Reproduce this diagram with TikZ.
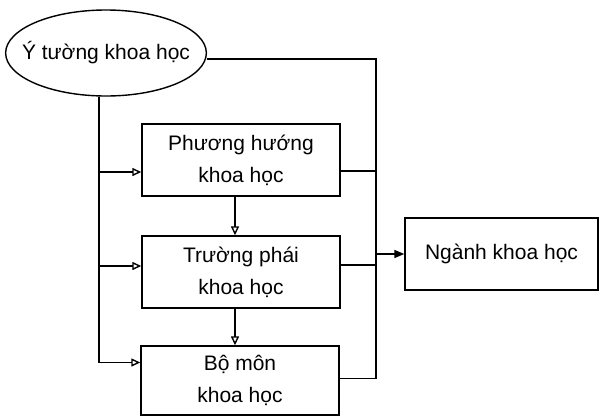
\documentclass[tikz,border=0pt]{standalone}
\usepackage{fontspec}
\setmainfont{Liberation Sans}
\usetikzlibrary{shapes.geometric,arrows.meta}

\begin{document}
\begin{tikzpicture}[x=0.5pt,y=-0.5pt,line width=0.7pt,
        txt/.style={font=\fontsize{10.5}{16}\selectfont,align=center},
        blk/.style={draw,txt,minimum width=99pt,minimum height=36pt,inner sep=2pt},
        oval/.style={draw,ellipse,txt,minimum width=99pt,minimum height=43pt,inner xsep=-6.5pt,inner ysep=0pt},
        arr/.style={-{Triangle[open,length=4.5pt,width=4pt]}},
        arrf/.style={-{Triangle[length=5pt,width=4pt]}}]
        \useasboundingbox (0,0) rectangle (600,418);
        \node[oval] (idea) at (106,53) {Ý tường khoa học};
        \node[blk] (huong) at (241,160) {Phương hướng\\khoa học};
        \node[blk] (phai) at (241,272) {Trường phái\\khoa học};
        \node[blk,minimum height=34.5pt] (mon) at (240,380.5) {Bộ môn\\khoa học};
        \node[blk,minimum width=96.5pt] (nganh) at (501.5,254) {Ngành khoa học};
        \coordinate (lv) at (99,0);
        \coordinate (rv) at (376,0);
        \coordinate (dn) at (235,0);
        \coordinate (h-in) at ([yshift=-6pt]huong.west);
        \coordinate (p-in) at ([yshift=3pt]phai.west);
        \coordinate (m-in) at ([yshift=9pt]mon.west);
        \coordinate (h-out) at ([yshift=-5.5pt]huong.east);
        \coordinate (p-out) at ([yshift=3.5pt]phai.east);
        \coordinate (m-out) at ([yshift=1pt]mon.east);
        \draw[arr] (idea.south -| lv) |- (m-in);
        \draw[arr] (lv |- h-in) -- (h-in);
        \draw[arr] (lv |- p-in) -- (p-in);
        \draw ([yshift=-3pt]idea.east) -| (rv |- m-out) -- (m-out);
        \draw (h-out) -- (rv |- h-out);
        \draw (p-out) -- (rv |- p-out);
        \draw[arrf] (rv |- nganh.west) -- (nganh.west);
        \draw[arr] (dn |- huong.south) -- (dn |- phai.north);
        \draw[arr] (dn |- phai.south) -- (dn |- mon.north);
    \end{tikzpicture}
\end{document}
